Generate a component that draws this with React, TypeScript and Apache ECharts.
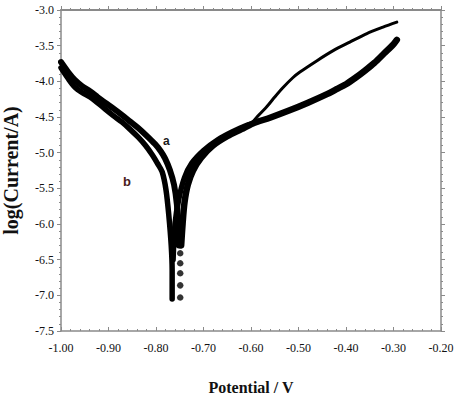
import React, { useEffect, useRef } from "react";
import * as echarts from "echarts";

// Potential (V) and log(Current/A)
const aCathodicV = [-1.0, -0.985, -0.971, -0.955, -0.939, -0.923, -0.907, -0.89, -0.872, -0.855, -0.838, -0.82, -0.802, -0.79, -0.781, -0.771, -0.762, -0.756, -0.754, -0.752];
const aCathodicL = [-3.73, -3.87, -3.98, -4.07, -4.14, -4.22, -4.3, -4.38, -4.47, -4.56, -4.65, -4.76, -4.88, -4.98, -5.08, -5.24, -5.45, -5.73, -6.0, -6.3];
const aAnodicV = [-0.747, -0.744, -0.74, -0.733, -0.722, -0.705, -0.68, -0.65, -0.62, -0.596, -0.56, -0.52, -0.48, -0.44, -0.42, -0.4, -0.38, -0.36, -0.34, -0.32, -0.3, -0.293];
const aAnodicL = [-6.3, -6.0, -5.7, -5.45, -5.25, -5.07, -4.9, -4.77, -4.67, -4.59, -4.51, -4.41, -4.3, -4.18, -4.11, -4.04, -3.95, -3.85, -3.74, -3.61, -3.48, -3.42];
const aDotsV = [-0.749, -0.749, -0.749, -0.749, -0.749];
const aDotsL = [-6.41, -6.55, -6.69, -6.86, -7.03];

const bCathodicV = [-1.0, -0.985, -0.971, -0.955, -0.939, -0.923, -0.907, -0.89, -0.872, -0.855, -0.838, -0.822, -0.808, -0.797, -0.787, -0.779, -0.773, -0.768, -0.766, -0.766];
const bCathodicL = [-3.81, -3.96, -4.08, -4.16, -4.22, -4.3, -4.39, -4.48, -4.57, -4.67, -4.78, -4.9, -5.03, -5.15, -5.27, -5.52, -5.88, -6.3, -6.65, -7.05];
const bAnodicV = [-0.764, -0.76, -0.752, -0.74, -0.725, -0.7, -0.67, -0.64, -0.61, -0.6];
const bAnodicL = [-6.5, -6.0, -5.65, -5.35, -5.15, -4.97, -4.82, -4.71, -4.62, -4.6];
const bUpperV = [-0.6, -0.583, -0.566, -0.55, -0.533, -0.512, -0.497, -0.461, -0.427, -0.392, -0.356, -0.322, -0.293];
const bUpperL = [-4.6, -4.47, -4.35, -4.22, -4.09, -3.95, -3.87, -3.71, -3.57, -3.45, -3.33, -3.24, -3.17];

const xTicks = { min: -1.0, max: -0.2, interval: 0.1 };
const yTicks = { min: -7.5, max: -3.0, interval: 0.5 };
const xTitle = "Potential / V";
const yTitle = "log(Current/A)";
const curveLabels = ["a", "b"];

const pairs = (xs: number[], ys: number[]) => xs.map((x, i) => [x, ys[i]]);

export default function App() {
  const ref = useRef<HTMLDivElement>(null);
  useEffect(() => {
    if (!ref.current) return;
    const chart = echarts.init(ref.current, undefined, { renderer: "svg" });
    const axisColor = "#8a8a8a";
    const labelFont = { fontFamily: "'Liberation Serif', serif", fontSize: 12, color: "#111" };
    const lineSeries = (name: string, data: number[][], width: number) => ({
      name,
      type: "line",
      data,
      showSymbol: false,
      smooth: 0.3,
      lineStyle: { color: "#000", width, cap: "round", join: "round" },
      z: 3,
    });
    chart.setOption({
      animation: false,
      backgroundColor: "#fff",
      grid: { left: 61, top: 10, right: 16, bottom: 73, containLabel: false, outerBoundsMode: "none" },
      xAxis: [
        {
          type: "value",
          min: xTicks.min,
          max: xTicks.max,
          interval: xTicks.interval,
          position: "bottom",
          name: xTitle,
          nameLocation: "middle",
          nameGap: 48,
          nameTextStyle: { fontFamily: "'Liberation Serif', serif", fontSize: 16, fontWeight: "bold", color: "#111" },
          axisLine: { lineStyle: { color: axisColor, width: 1.5 } },
          axisTick: { inside: true, length: 4, lineStyle: { color: axisColor } },
          minorTick: { show: true, splitNumber: 5, length: 2, lineStyle: { color: axisColor } },
          axisLabel: { ...labelFont, margin: 11, formatter: (v: number) => v.toFixed(2) },
          splitLine: { show: false },
        },
        {
          type: "value",
          min: xTicks.min,
          max: xTicks.max,
          interval: xTicks.interval,
          position: "top",
          axisLine: { lineStyle: { color: axisColor, width: 2 } },
          axisTick: { inside: false, length: 4, lineStyle: { color: axisColor } },
          minorTick: { show: true, splitNumber: 5, length: 2, lineStyle: { color: axisColor } },
          axisLabel: { show: false },
          splitLine: { show: false },
        },
      ],
      yAxis: [
        {
          type: "value",
          min: yTicks.min,
          max: yTicks.max,
          interval: yTicks.interval,
          position: "left",
          name: yTitle,
          nameLocation: "middle",
          nameGap: 40,
          nameRotate: 90,
          nameTextStyle: { fontFamily: "'Liberation Serif', serif", fontSize: 20, fontWeight: "bold", color: "#111" },
          axisLine: { lineStyle: { color: axisColor, width: 1.5 } },
          axisTick: { inside: false, length: 4, lineStyle: { color: axisColor } },
          minorTick: { show: true, splitNumber: 5, length: 2, lineStyle: { color: axisColor } },
          axisLabel: { ...labelFont, margin: 7, formatter: (v: number) => v.toFixed(1) },
          splitLine: { show: false },
        },
        {
          type: "value",
          min: yTicks.min,
          max: yTicks.max,
          interval: yTicks.interval,
          position: "right",
          axisLine: { lineStyle: { color: axisColor, width: 1.5 } },
          axisTick: { inside: false, length: 4, lineStyle: { color: axisColor } },
          minorTick: { show: true, splitNumber: 5, length: 2, lineStyle: { color: axisColor } },
          axisLabel: { show: false },
          splitLine: { show: false },
        },
      ],
      series: [
        lineSeries("a cathodic", pairs(aCathodicV, aCathodicL), 6),
        lineSeries("a anodic", pairs(aAnodicV, aAnodicL), 6.5),
        {
          name: "a dots",
          type: "scatter",
          data: pairs(aDotsV, aDotsL),
          symbol: "circle",
          symbolSize: 6.5,
          itemStyle: { color: "#000" },
          z: 3,
        },
        lineSeries("b cathodic", pairs(bCathodicV, bCathodicL), 5.5),
        lineSeries("b anodic", pairs(bAnodicV, bAnodicL), 5.5),
        lineSeries("b upper", pairs(bUpperV, bUpperL), 3),
      ],
      graphic: [
        {
          type: "text",
          left: 163,
          top: 135,
          style: { text: curveLabels[0], font: "bold 12px 'Liberation Sans'", fill: "#1a1a1a" },
        },
        {
          type: "text",
          left: 123,
          top: 175,
          style: { text: curveLabels[1], font: "bold 13px 'Liberation Sans'", fill: "#4a1c1c" },
        },
      ],
    });
    return () => chart.dispose();
  }, []);
  return <div ref={ref} style={{ width: 457, height: 404, position: "absolute", left: 0, top: 0 }} />;
}
